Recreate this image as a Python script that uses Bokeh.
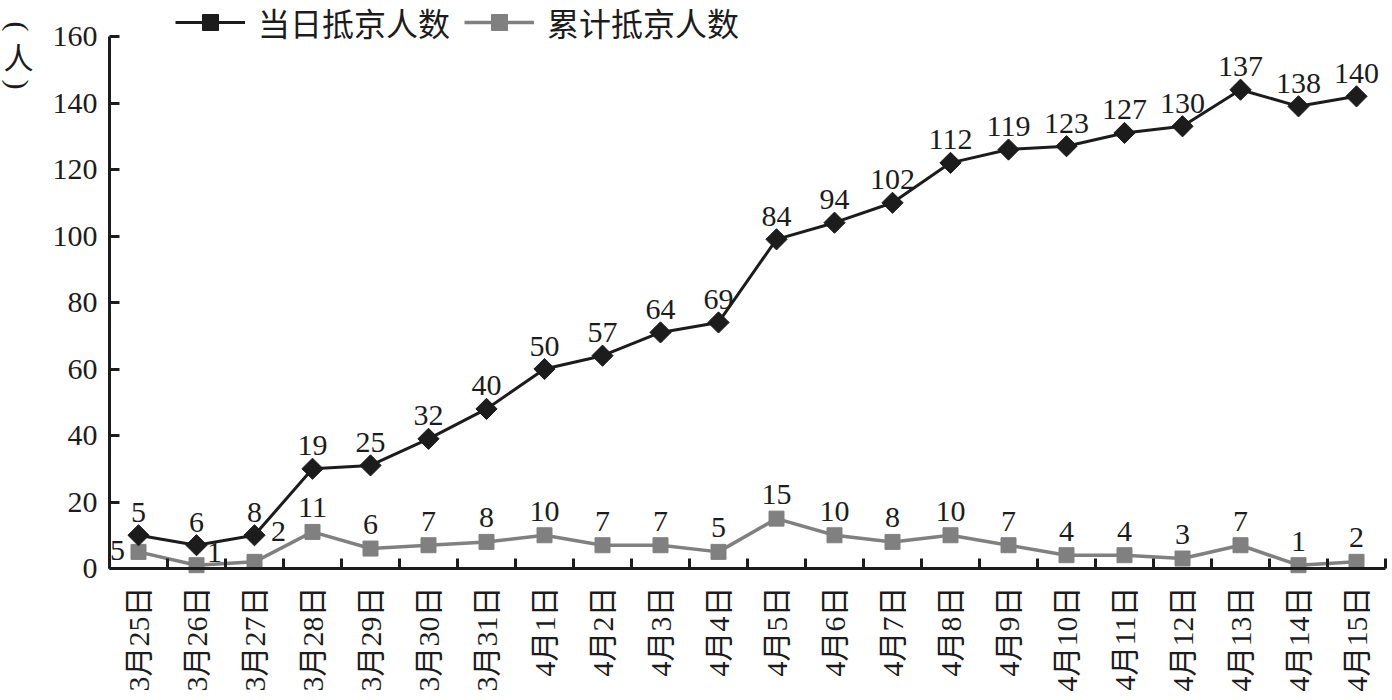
import numpy as np
from bokeh.plotting import figure
from bokeh.models import Range1d, FixedTicker, Legend, LegendItem, Label, ColumnDataSource
from bokeh.core.properties import value
from bokeh.embed import file_html
from bokeh.resources import INLINE

# ---------------- data ----------------
dates = ["3月25日", "3月26日", "3月27日", "3月28日", "3月29日", "3月30日", "3月31日",
         "4月1日", "4月2日", "4月3日", "4月4日", "4月5日", "4月6日", "4月7日", "4月8日",
         "4月9日", "4月10日", "4月11日", "4月12日", "4月13日", "4月14日", "4月15日"]
series_black_name = "当日抵京人数"
series_gray_name = "累计抵京人数"
# labels shown on the black (upper) line
black_values = [5, 6, 8, 19, 25, 32, 40, 50, 57, 64, 69, 84, 94, 102, 112, 119, 123, 127, 130, 137, 138, 140]
# labels shown on the gray (lower) line
gray_values = [5, 1, 2, 11, 6, 7, 8, 10, 7, 7, 5, 15, 10, 8, 10, 7, 4, 4, 3, 7, 1, 2]
y_ticks = [0, 20, 40, 60, 80, 100, 120, 140, 160]
y_max = 160
y_title_chars = ["(", "人", ")"]

# ---------------- derived ----------------
n = len(dates)
xs = np.arange(n) + 0.5
gray_arr = np.array(gray_values, dtype=float)
# stacked line chart: black series is plotted stacked on top of the gray series
black_top = gray_arr + np.array(black_values, dtype=float)

BLACK = "#1c1c1c"
GRAY = "#808080"
NUM_FONT = "Liberation Serif"

W, H = 1392, 700
# frame fills the whole canvas; axes are pinned at x=0 / y=0
left_px, right_px, top_px, bottom_px = 109, 7, 36, 132
cat_px = (W - left_px - right_px) / n
unit_px = (H - top_px - bottom_px) / y_max

p = figure(width=W, height=H, output_backend="svg", toolbar_location=None,
           x_range=Range1d(-left_px / cat_px, n + right_px / cat_px),
           y_range=Range1d(-bottom_px / unit_px, y_max + top_px / unit_px),
           min_border=0, min_border_left=0, min_border_right=0,
           min_border_top=0, min_border_bottom=0)
p.outline_line_color = None
p.grid.visible = False
p.background_fill_color = "white"

# x axis
xa = p.xaxis[0]
xa.fixed_location = 0
xa.bounds = (0, n)
xa.ticker = FixedTicker(ticks=list(xs), minor_ticks=list(np.arange(n + 1)))
xa.major_label_overrides = {float(x): d for x, d in zip(xs, dates)}
xa.major_tick_line_color = None
xa.minor_tick_in = 10
xa.minor_tick_out = 0
xa.minor_tick_line_width = 3
xa.minor_tick_line_color = BLACK
xa.axis_line_width = 3
xa.axis_line_color = BLACK
xa.major_label_orientation = np.pi / 2
xa.major_label_standoff = 12
xa.major_label_text_font_size = "30px"
xa.major_label_text_font = "Liberation Serif, Noto Sans CJK SC"
xa.major_label_text_color = BLACK

# y axis
ya = p.yaxis[0]
ya.fixed_location = 0
ya.bounds = (0, y_max)
ya.ticker = FixedTicker(ticks=y_ticks)
ya.major_tick_in = 10
ya.major_tick_out = 0
ya.major_tick_line_width = 3
ya.major_tick_line_color = BLACK
ya.minor_tick_line_color = None
ya.axis_line_width = 3
ya.axis_line_color = BLACK
ya.major_label_standoff = 12
ya.major_label_text_font_size = "30px"
ya.major_label_text_font = NUM_FONT
ya.major_label_text_color = BLACK

# gray series
gray_line = p.line(xs, gray_arr, line_color=GRAY, line_width=3.5)

# gray labels (a few are nudged as in the original)
nudges = {0: (-21, -1), 1: (18, -13), 2: (24, -30)}
gx_off, gy_off = [], []
for i in range(n):
    dx, dy = nudges.get(i, (0, -24))
    gx_off.append(dx)
    gy_off.append(dy)
gsrc = ColumnDataSource(dict(x=xs, y=gray_arr, t=[str(v) for v in gray_values], xo=gx_off, yo=gy_off))
p.text(x="x", y="y", text="t", x_offset="xo", y_offset="yo", source=gsrc,
       text_align="center", text_baseline="alphabetic", text_font=value(NUM_FONT),
       text_font_size="30px", text_color=BLACK)
gray_pts = p.scatter(xs, gray_arr, marker="square", size=15, color=GRAY)

# black series
black_line = p.line(xs, black_top, line_color=BLACK, line_width=3)
black_pts = p.scatter(xs, black_top, marker="square", angle=np.pi / 4, size=15, color=BLACK)
p.text(xs, black_top, text=[str(v) for v in black_values], y_offset=-23,
       text_align="center", text_baseline="alphabetic", text_font=value(NUM_FONT),
       text_font_size="30px", text_color=BLACK)

# legend
legend = Legend(items=[LegendItem(label=series_black_name, renderers=[black_line, black_pts]),
                       LegendItem(label=series_gray_name, renderers=[gray_line, gray_pts])],
                orientation="horizontal", location=(175, 655),
                glyph_width=70, glyph_height=40, label_standoff=13, spacing=14,
                padding=0, margin=0, border_line_color=None, background_fill_alpha=0,
                label_text_font="Noto Sans CJK SC", label_text_font_size="32px",
                label_text_color=BLACK)
p.add_layout(legend)

# y axis title, written vertically: parentheses turned to lie across the column
title_specs = [(y_title_chars[0], 674, -np.pi / 2, NUM_FONT),
               (y_title_chars[1], 645, 0.0, "Noto Sans CJK SC"),
               (y_title_chars[2], 616, -np.pi / 2, NUM_FONT)]
for ch, yy, ang, fnt in title_specs:
    p.add_layout(Label(x=18, y=yy, x_units="screen", y_units="screen", text=ch, angle=ang,
                       text_align="center", text_baseline="middle",
                       text_font=fnt, text_font_size="30px", text_color=BLACK))

open("out.html", "w").write(file_html(p, INLINE))
